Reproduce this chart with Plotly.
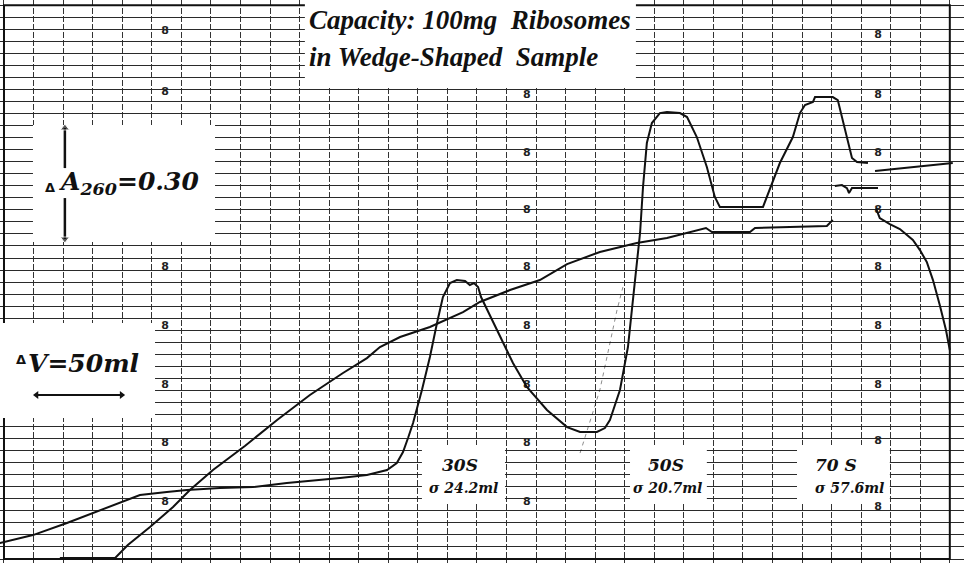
import plotly.graph_objects as go

# Chart-paper coordinates: x = volume divisions (3 div = 50 ml), y = absorbance divisions
abs_x = [-0.14, 0.98, 2.13, 3.01, 3.92, 4.60, 5.51, 6.19, 7.31, 8.42, 9.57, 10.69, 11.37, 12.28,
         12.96, 13.29, 13.50, 13.67, 13.84, 14.14, 14.41, 14.65, 14.85, 15.09, 15.32, 15.60, 15.76,
         15.90, 16.04, 16.14, 16.68, 17.22, 17.69, 18.37, 19.05, 19.49, 20.06, 20.33, 20.50, 20.84,
         21.11, 21.24, 21.35, 21.52, 21.62, 21.75, 21.92, 22.19, 22.43, 22.87, 23.11, 23.44, 23.78,
         24.05, 24.22, 25.68, 25.91, 26.25, 26.69, 26.93, 27.10, 27.37, 27.44, 28.04, 28.21, 28.38,
         28.55, 28.69, 28.86, 29.23]
abs_y = [1.33, 1.99, 2.99, 3.82, 4.65, 5.32, 5.56, 5.73, 5.90, 5.98, 6.31, 6.56, 6.73, 6.98,
         7.39, 7.97, 8.89, 10.05, 11.30, 14.04, 16.78, 19.60, 21.76, 22.92, 23.17, 23.09, 22.76,
         22.92, 22.59, 21.76, 19.02, 16.28, 14.29, 12.38, 10.96, 10.55, 10.55, 10.88, 11.54, 14.04,
         17.61, 20.43, 23.17, 27.08, 30.90, 34.55, 36.21, 37.04, 37.13, 37.04, 36.71, 35.05, 32.56,
         30.07, 29.24, 29.24, 30.65, 32.89, 35.05, 37.04, 37.71, 37.96, 38.37, 38.37, 38.12, 36.46,
         34.55, 33.31, 32.97, 32.89]

grad_x = [1.89, 3.76, 4.19, 4.94, 5.72, 6.29, 7.07, 8.15, 9.24, 10.35, 11.47, 12.28, 12.72, 13.40,
          14.41, 15.53, 16.10, 17.12, 18.13, 19.05, 20.16, 21.41, 22.43, 23.55, 23.75, 23.95, 25.24,
          25.41, 26.59, 27.84, 28.04]
grad_y = [0.08, 0.08, 1.16, 2.66, 4.32, 5.73, 7.39, 9.39, 11.54, 13.62, 15.45, 16.69, 17.61, 18.44,
          19.27, 20.51, 21.35, 22.34, 23.17, 24.50, 25.50, 26.25, 26.66, 27.33, 27.49, 27.16, 27.16,
          27.49, 27.57, 27.66, 28.16]

tail_x = [29.47, 30.75, 32.10]
tail_y = [32.23, 32.56, 32.89]

kink_x = [28.11, 28.35, 28.52, 28.59, 28.69, 29.57]
kink_y = [30.98, 31.06, 30.81, 30.40, 30.81, 30.81]

fall_x = [29.50, 29.63, 29.97, 30.31, 30.75, 30.99, 31.22, 31.43, 31.66, 31.87, 32.00]
fall_y = [29.15, 28.32, 27.82, 27.41, 26.50, 25.66, 24.67, 23.17, 21.10, 19.02, 17.36]

guide_x = [19.49, 19.82, 20.16, 20.43, 20.74, 20.94]
guide_y = [8.80, 11.30, 14.04, 17.11, 20.68, 22.59]

# recorder event marks ("8") visible on the paper
mark_x = [5.45, 5.45, 5.45, 5.45, 5.45, 5.45, 5.45,
          17.69, 17.69, 17.69, 17.69, 17.69, 17.69, 17.69, 17.69,
          29.57, 29.57, 29.57, 29.57, 29.57, 29.57, 29.57, 29.57, 29.57]
mark_y = [43.8, 38.8, 24.2, 19.3, 14.45, 9.63, 4.73,
          38.5, 33.7, 29.0, 24.2, 19.3, 14.45, 9.63, 4.73,
          43.5, 38.5, 33.7, 29.0, 24.2, 19.3, 14.45, 9.8, 4.3]

peak_names = ["30S", "50S", "70 S"]
peak_sigmas = ["σ 24.2ml", "σ 20.7ml", "σ 57.6ml"]
peak_label_x = [15.43, 22.40, 28.15]
peak_sigma_x = [15.56, 22.46, 28.62]

title_lines = ["Capacity: 100mg  Ribosomes", "in Wedge-Shaped  Sample"]
scale_a = "A<sub>260</sub>=0.30"
scale_v = "V=50ml"

fig = go.Figure()

# chart frame and white label boxes (between grid and traces)
fig.add_shape(type="rect", x0=0, x1=32, y0=0, y1=46, line=dict(color="#111", width=2), layer="between")
boxes = [
    (10.18, 21.38, 39.12, 47.0),
    (0.98, 7.14, 26.33, 36.05),
    (-0.2, 5.11, 11.71, 19.60),
    (14.14, 16.95, 4.73, 9.47),
    (21.18, 23.78, 4.73, 9.47),
    (26.83, 29.97, 4.73, 9.47),
]
for x0, x1, y0, y1 in boxes:
    fig.add_shape(type="rect", x0=x0, x1=x1, y0=y0, y1=y1, fillcolor="white",
                  line=dict(width=0), layer="between")

fig.add_trace(go.Scatter(x=mark_x, y=mark_y, mode="text", text=["8"] * len(mark_x),
                         textfont=dict(family="DejaVu Sans", size=11, color="#222", weight="bold"),
                         hoverinfo="skip", showlegend=False))

fig.add_trace(go.Scatter(x=guide_x, y=guide_y, mode="lines",
                         line=dict(color="rgba(0,0,0,0.45)", width=1, dash="4px,4px"),
                         hoverinfo="skip", showlegend=False))

line_style = dict(color="#111", width=2)
for xs, ys in [(grad_x, grad_y), (abs_x, abs_y), (tail_x, tail_y), (kink_x, kink_y), (fall_x, fall_y)]:
    fig.add_trace(go.Scatter(x=xs, y=ys, mode="lines", line=line_style,
                             hoverinfo="skip", showlegend=False))

# scale arrows
fig.add_trace(go.Scatter(x=[2.06, 2.06], y=[32.47, 35.80], mode="lines+markers",
                         line=dict(color="#111", width=2.5),
                         marker=dict(symbol=["circle", "triangle-up"], size=[0, 8], color="#111"),
                         hoverinfo="skip", showlegend=False))
fig.add_trace(go.Scatter(x=[2.06, 2.06], y=[29.98, 26.58], mode="lines+markers",
                         line=dict(color="#111", width=2.5),
                         marker=dict(symbol=["circle", "triangle-down"], size=[0, 8], color="#111"),
                         hoverinfo="skip", showlegend=False))
fig.add_trace(go.Scatter(x=[1.10, 3.98], y=[13.62, 13.62], mode="lines+markers",
                         line=dict(color="#111", width=2),
                         marker=dict(symbol=["triangle-left", "triangle-right"], size=7, color="#111"),
                         hoverinfo="skip", showlegend=False))

serif = "DejaVu Serif"
title_font = dict(family="Liberation Serif", size=27, color="#111", weight="bold", style="italic")
fig.add_annotation(x=10.25, y=44.77, text=title_lines[0], showarrow=False, xanchor="left",
                   yanchor="middle", font=title_font)
fig.add_annotation(x=10.25, y=41.69, text=title_lines[1], showarrow=False, xanchor="left",
                   yanchor="middle", font=title_font)

label_font = dict(family=serif, size=25, color="#111", weight="bold", style="italic")
delta_font = dict(family="DejaVu Sans", size=13, color="#111", weight="bold")
fig.add_annotation(x=1.55, y=30.85, text="Δ", showarrow=False, font=delta_font)
fig.add_annotation(x=1.79, y=31.23, text=scale_a, showarrow=False, xanchor="left", yanchor="middle",
                   font=label_font)
fig.add_annotation(x=0.58, y=16.55, text="Δ", showarrow=False, font=delta_font)
fig.add_annotation(x=0.74, y=16.28, text=scale_v, showarrow=False, xanchor="left", yanchor="middle",
                   font=label_font)

for name, sig, lx, sx in zip(peak_names, peak_sigmas, peak_label_x, peak_sigma_x):
    fig.add_annotation(x=lx, y=7.81, text=name, showarrow=False,
                       font=dict(family=serif, size=17, color="#111", weight="bold", style="italic"))
    fig.add_annotation(x=sx, y=5.90, text=sig, showarrow=False,
                       font=dict(family=serif, size=14, color="#111", weight="bold", style="italic"))

fig.update_xaxes(range=[-0.135, 32.48], tick0=0, dtick=1, showgrid=True, gridcolor="#333",
                 gridwidth=1, griddash="6px,2px", showticklabels=False, zeroline=False,
                 showline=False, ticks="")
fig.update_yaxes(range=[-0.33, 46.43], tick0=0, dtick=1, showgrid=True, gridcolor="#2a2a2a",
                 gridwidth=1, showticklabels=False, zeroline=False, showline=False, ticks="")

fig.update_layout(width=964, height=563, margin=dict(l=0, r=0, t=0, b=0),
                  paper_bgcolor="white", plot_bgcolor="white", showlegend=False)

fig.write_html("out.html")
